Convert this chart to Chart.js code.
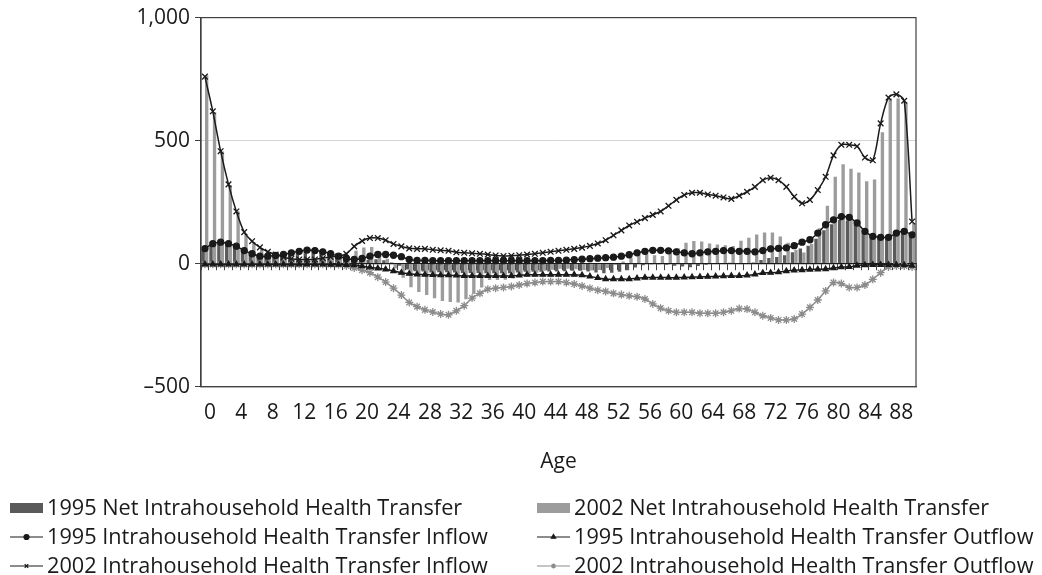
<!DOCTYPE html>
<html>
<head>
<meta charset="utf-8">
<script src="https://cdn.jsdelivr.net/npm/chart.js@4/dist/chart.umd.min.js"></script>
<style>
  html, body { margin: 0; padding: 0; background: #fff; }
</style>
</head>
<body>
<canvas id="chart" width="1042" height="575"></canvas>
<script>
const ages = [0, 1, 2, 3, 4, 5, 6, 7, 8, 9, 10, 11, 12, 13, 14, 15, 16, 17, 18, 19,
    20, 21, 22, 23, 24, 25, 26, 27, 28, 29, 30, 31, 32, 33, 34, 35, 36, 37, 38, 39,
    40, 41, 42, 43, 44, 45, 46, 47, 48, 49, 50, 51, 52, 53, 54, 55, 56, 57, 58, 59,
    60, 61, 62, 63, 64, 65, 66, 67, 68, 69, 70, 71, 72, 73, 74, 75, 76, 77, 78, 79,
    80, 81, 82, 83, 84, 85, 86, 87, 88, 89, 90];

const net1995 = [58, 78, 84, 78, 68, 50, 37, 27, 27, 30, 34, 41, 47, 52, 50, 45, 36, 26, 16, 11,
    11, 15, 18, 14, 4, -9, -24, -31, -32, -36, -35, -35, -36, -38, -38, -38, -39, -39, -39, -39,
    -36, -33, -33, -33, -32, -32, -31, -29, -29, -32, -36, -39, -37, -33, -27, -16, -7, -3, -3, -5,
    -9, -12, -15, -10, -5, -2, 2, 3, 0, 2, 4, 15, 23, 27, 34, 46, 61, 73, 101, 136,
    160, 177, 175, 157, 125, 106, 102, 102, 119, 125, 109];

const net2002 = [765, 615, 456, 319, 212, 120, 88, 63, 45, 34, 23, 17, 14, 14, 14, 19, 23, 25, 30, 52,
    65, 67, 49, 20, -20, -58, -96, -115, -128, -141, -152, -156, -158, -145, -124, -97, -67, -67, -66, -61,
    -53, -44, -37, -29, -25, -21, -21, -23, -26, -28, -26, -18, -6, 9, 24, 35, 41, 34, 31, 43,
    62, 85, 92, 90, 82, 78, 75, 72, 93, 105, 118, 126, 126, 110, 85, 55, 45, 80, 144, 235,
    353, 404, 386, 370, 335, 342, 534, 671, 671, 655, 166];

const inflow1995 = [61, 81, 87, 81, 71, 53, 40, 30, 30, 33, 37, 44, 50, 55, 53, 48, 40, 30, 21, 17,
    21, 30, 37, 37, 34, 28, 17, 13, 13, 12, 12, 12, 12, 12, 12, 12, 12, 12, 12, 12,
    12, 12, 12, 12, 13, 13, 14, 16, 18, 20, 22, 24, 26, 30, 36, 44, 50, 54, 54, 52,
    48, 44, 40, 44, 48, 50, 53, 53, 50, 50, 48, 53, 60, 62, 64, 73, 87, 97, 124, 158,
    178, 191, 188, 165, 131, 111, 107, 107, 124, 131, 117];

const outflow1995 = [-3, -3, -3, -3, -3, -3, -3, -3, -3, -3, -3, -3, -3, -3, -3, -3, -4, -4, -5, -6,
    -10, -15, -19, -23, -30, -37, -41, -44, -45, -46, -47, -47, -48, -50, -50, -50, -50, -50, -50, -50,
    -48, -45, -45, -45, -45, -45, -45, -45, -47, -52, -58, -63, -63, -63, -63, -60, -57, -57, -57, -57,
    -57, -56, -55, -54, -53, -52, -51, -50, -50, -48, -44, -38, -37, -35, -30, -27, -26, -24, -23, -22,
    -18, -14, -13, -8, -6, -5, -5, -5, -5, -6, -8];

const inflow2002 = [760, 619, 457, 322, 212, 128, 91, 66, 48, 37, 26, 20, 17, 17, 17, 22, 27, 30, 40, 70,
    92, 104, 104, 95, 80, 70, 62, 60, 60, 56, 54, 52, 46, 44, 42, 40, 37, 33, 31, 32,
    34, 37, 40, 44, 48, 52, 56, 60, 65, 72, 82, 95, 115, 135, 155, 170, 185, 198, 212, 235,
    259, 279, 288, 288, 281, 276, 269, 263, 276, 292, 312, 339, 349, 339, 312, 272, 245, 259, 299, 353,
    440, 483, 483, 477, 431, 420, 570, 675, 688, 662, 171];

const outflow2002 = [-3, -3, -3, -3, -3, -3, -3, -3, -3, -3, -3, -3, -3, -3, -3, -3, -4, -5, -10, -18,
    -27, -37, -55, -75, -100, -128, -158, -175, -188, -197, -205, -208, -192, -171, -140, -121, -104, -100, -97, -93,
    -87, -81, -77, -73, -73, -73, -77, -83, -91, -100, -108, -113, -121, -126, -131, -135, -144, -164, -181, -192,
    -198, -198, -198, -202, -202, -202, -198, -192, -183, -185, -198, -212, -221, -229, -229, -225, -205, -178, -148, -111,
    -77, -81, -97, -97, -87, -64, -37, -14, -10, -10, -14];

const FONT = "'Open Sans', sans-serif";
const TEXT = '#1a1a1a';
const AXIS = '#404040';

function lineSet(label, data, color, style, radius) {
    return {
        type: 'line', label, data, order: 1,
        borderColor: color, backgroundColor: color, borderWidth: 1.5,
        pointStyle: style, pointRadius: radius, pointBorderWidth: 1.3,
        pointBackgroundColor: color, pointBorderColor: color,
        tension: 0.3, fill: false
    };
}

// frame around the plot area
const framePlugin = {
    id: 'frame',
    afterDraw(chart) {
        const { ctx, chartArea: a } = chart;
        ctx.save();
        ctx.strokeStyle = AXIS;
        ctx.lineWidth = 1.2;
        ctx.strokeRect(a.left, a.top, a.right - a.left, a.bottom - a.top);
        ctx.restore();
    }
};

// two-column legend under the chart
const gridLegend = {
    id: 'gridLegend',
    afterDraw(chart) {
        const c = chart.ctx;
        const cols = [10, 537];
        const rows = [508, 537, 566];
        c.save();
        c.font = '21.7px ' + FONT;
        c.textBaseline = 'middle';
        chart.data.datasets.forEach((ds, i) => {
            const x = cols[i % 2];
            const y = rows[Math.floor(i / 2)];
            if (ds.type === 'bar') {
                c.fillStyle = ds.backgroundColor;
                c.fillRect(x, y - 5, 33, 10);
            } else {
                c.strokeStyle = ds.borderColor;
                c.lineWidth = 1.2;
                c.beginPath();
                c.moveTo(x, y);
                c.lineTo(x + 33, y);
                c.stroke();
                c.fillStyle = ds.pointBackgroundColor;
                Chart.helpers.drawPoint(c, {
                    pointStyle: ds.pointStyle, radius: 2.5, rotation: 0, borderWidth: 1
                }, x + 16.5, y);
            }
            c.fillStyle = TEXT;
            c.fillText(ds.label, x + 37, y + 1);
        });
        c.restore();
    }
};

new Chart(document.getElementById('chart'), {
    data: {
        labels: ages,
        datasets: [
            { type: 'bar', label: '1995 Net Intrahousehold Health Transfer', data: net1995, order: 2,
              backgroundColor: '#5a5a5a', categoryPercentage: 0.9, barPercentage: 0.95 },
            { type: 'bar', label: '2002 Net Intrahousehold Health Transfer', data: net2002, order: 2,
              backgroundColor: '#9c9c9c', categoryPercentage: 0.9, barPercentage: 0.95 },
            lineSet('1995 Intrahousehold Health Transfer Inflow', inflow1995, '#1a1a1a', 'circle', 3),
            lineSet('1995 Intrahousehold Health Transfer Outflow', outflow1995, '#1a1a1a', 'triangle', 3),
            lineSet('2002 Intrahousehold Health Transfer Inflow', inflow2002, '#1a1a1a', 'crossRot', 4),
            lineSet('2002 Intrahousehold Health Transfer Outflow', outflow2002, '#8c8c8c', 'star', 4)
        ]
    },
    options: {
        responsive: false,
        animation: false,
        layout: { padding: { left: 0, right: 126, top: 15, bottom: 100 } },
        plugins: { legend: { display: false }, tooltip: { enabled: false } },
        scales: {
            x: {
                offset: true,
                ticks: {
                    autoSkip: false, maxRotation: 0, padding: 14, labelOffset: 5,
                    font: { family: FONT, size: 21 }, color: TEXT,
                    callback: function (v, i) { return i % 4 === 0 ? this.getLabelForValue(v) : ''; }
                },
                grid: { display: false, drawTicks: false },
                border: { display: true, color: AXIS, width: 1.2 },
                title: { display: true, text: 'Age', color: TEXT,
                         font: { family: FONT, size: 21 }, padding: { top: 10, bottom: 0 } }
            },
            x0: {
                type: 'category', axis: 'x', labels: ages, offset: true,
                position: { y: 0 },
                ticks: { display: false },
                grid: { drawOnChartArea: false, offset: true, tickLength: 6, color: AXIS },
                border: { color: TEXT, width: 1.2 }
            },
            y: {
                min: -500, max: 1000,
                ticks: {
                    stepSize: 500, padding: 5, color: TEXT,
                    font: { family: FONT, size: 21 },
                    callback: v => v < 0 ? '\u2013' + Math.abs(v) : v.toLocaleString('en-US')
                },
                grid: {
                    color: c => (c.tick && c.tick.value === 500) ? '#d4d4d4' : 'rgba(0,0,0,0)',
                    tickColor: AXIS, tickLength: 6
                },
                border: { color: AXIS, width: 1.2 },
                afterFit: s => { s.width = 201; }
            }
        }
    },
    plugins: [framePlugin, gridLegend]
});
</script>
</body>
</html>
